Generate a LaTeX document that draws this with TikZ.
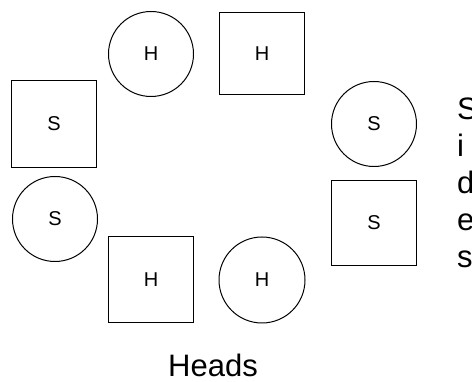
\documentclass[tikz,border=0pt]{standalone}
\usepackage{fontspec}
\setmainfont{Liberation Sans}
\usetikzlibrary{positioning, shapes}

\begin{document}
\begin{tikzpicture}[
    x=1pt, y=-1pt,
    piece/.style={draw, line width=1pt, minimum size=85pt, inner sep=0pt,
        font=\fontsize{20}{24}\selectfont},
    round/.style={piece, circle},
    block/.style={piece, rectangle},
    caption/.style={inner sep=0pt, font=\fontsize{31}{37}\selectfont}
]
\useasboundingbox (0,0) rectangle (472,382);

% Heads
\node[round] (h1) at (151,54) {H};
\node[block, minimum height=82pt] (h2) at (262,54) {H};
\node[block, minimum height=86pt] (h3) at (151,280) {H};
\node[round, minimum size=86pt] (h4) at (262,280) {H};

% Sides
\node[block, minimum height=87pt] (s1) at (54,124) {S};
\node[round] (s2) at (55,219) {S};
\node[round] (s3) at (374,124) {S};
\node[block] (s4) at (374,223) {S};

% Captions
\node[caption, anchor=base] (heads) at (213,377) {Heads};
\node[caption, anchor=north west, align=left] (sides) at (457,98) {S\\i\\d\\e\\s};

\end{tikzpicture}
\end{document}
